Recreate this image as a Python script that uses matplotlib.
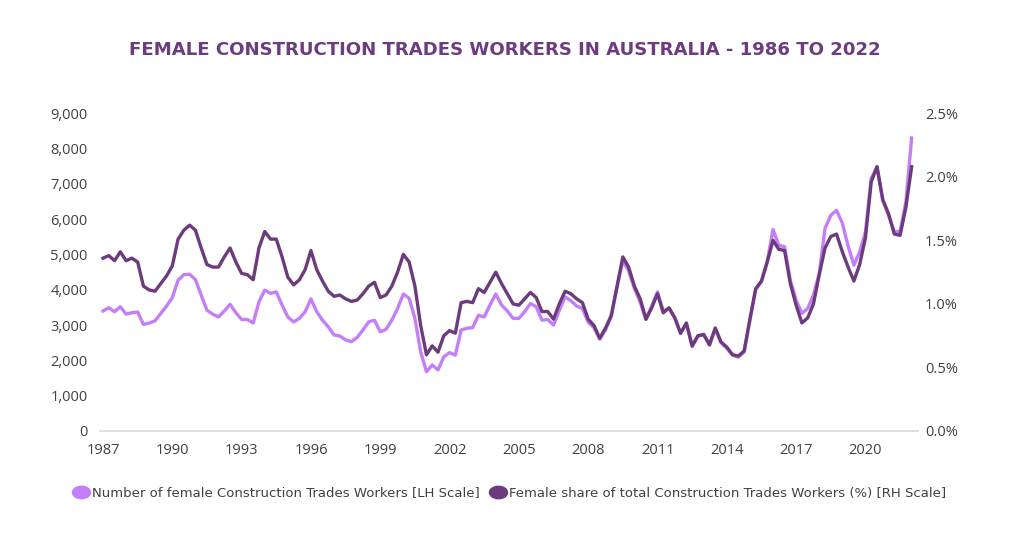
#!/usr/bin/env python

# Female construction trades workers in Australia, quarterly, LH count / RH share

import numpy as np
import matplotlib
matplotlib.use('Agg')
import matplotlib.pyplot as plt
from matplotlib.lines import Line2D
from matplotlib.path import Path
from matplotlib.transforms import Affine2D
from matplotlib.ticker import FuncFormatter, MultipleLocator

# Data - quarterly from Feb 1987
tick_years = ['1987', '1990', '1993', '1996', '1999', '2002',
              '2005', '2008', '2011', '2014', '2017', '2020']

female_workers = [
    3400, 3490, 3380, 3520, 3310, 3350, 3370, 3020, 3060, 3120,
    3330, 3540, 3780, 4270, 4430, 4440, 4290, 3850, 3420, 3310,
    3230, 3400, 3590, 3350, 3160, 3160, 3060, 3660, 3990, 3900,
    3940, 3570, 3230, 3090, 3190, 3380, 3740, 3380, 3140, 2950,
    2720, 2690, 2580, 2530, 2650, 2860, 3090, 3140, 2810, 2880,
    3140, 3470, 3880, 3760, 3190, 2240, 1680, 1870, 1730, 2100,
    2220, 2150, 2860, 2910, 2930, 3280, 3230, 3570, 3880, 3570,
    3400, 3190, 3190, 3380, 3610, 3520, 3140, 3160, 3000, 3420,
    3800, 3690, 3540, 3470, 3080, 2930, 2600, 2860, 3250, 4080,
    4820, 4540, 4040, 3650, 3160, 3540, 3940, 3400, 3470, 3200,
    2760, 3050, 2390, 2690, 2720, 2430, 2910, 2500, 2340, 2150,
    2090, 2240, 3140, 4010, 4230, 4800, 5710, 5260, 5220, 4270,
    3710, 3330, 3470, 3850, 4460, 5740, 6110, 6250, 5890, 5240,
    4700, 5070, 5640, 7150, 7480, 6540, 6110, 5640, 5660, 6490,
    8300]

female_share = [  # per cent
    1.36, 1.38, 1.34, 1.41, 1.34, 1.36, 1.33, 1.14, 1.11, 1.10,
    1.16, 1.22, 1.30, 1.51, 1.58, 1.62, 1.58, 1.44, 1.31, 1.29,
    1.29, 1.37, 1.44, 1.33, 1.24, 1.23, 1.19, 1.44, 1.57, 1.51,
    1.51, 1.37, 1.21, 1.15, 1.19, 1.27, 1.42, 1.27, 1.18, 1.10,
    1.06, 1.07, 1.04, 1.02, 1.03, 1.08, 1.14, 1.17, 1.05, 1.07,
    1.14, 1.25, 1.39, 1.33, 1.14, 0.83, 0.60, 0.67, 0.62, 0.75,
    0.79, 0.77, 1.01, 1.02, 1.01, 1.12, 1.09, 1.17, 1.25, 1.16,
    1.08, 1.00, 0.99, 1.04, 1.09, 1.05, 0.94, 0.94, 0.88, 1.00,
    1.10, 1.08, 1.04, 1.01, 0.88, 0.83, 0.73, 0.81, 0.91, 1.14,
    1.37, 1.29, 1.14, 1.04, 0.88, 0.97, 1.08, 0.93, 0.97, 0.89,
    0.77, 0.85, 0.67, 0.75, 0.76, 0.68, 0.81, 0.70, 0.66, 0.60,
    0.59, 0.63, 0.88, 1.12, 1.18, 1.33, 1.50, 1.43, 1.42, 1.16,
    0.99, 0.85, 0.89, 1.00, 1.23, 1.44, 1.53, 1.55, 1.41, 1.29,
    1.18, 1.31, 1.52, 1.96, 2.08, 1.82, 1.71, 1.55, 1.54, 1.76,
    2.08]

light = '#c47ef8'
dark = '#6c3b7c'
grey_text = '#404040'
tick_font = ['Open Sans', 'DejaVu Sans']
narrow_font = ['DejaVu Sans Condensed', 'Liberation Sans Narrow', 'DejaVu Sans']

fig = plt.figure(figsize=(10.24, 5.37), dpi=100, facecolor='white')

ax = fig.add_axes([100/1024, 1-431/537, 818/1024, 317.7/537])
ax2 = ax.twinx()

x = np.arange(len(female_workers))

ax.plot(x, female_workers, color=light, linewidth=2.4,
        solid_joinstyle='round', zorder=2)
ax2.plot(x, female_share, color=dark, linewidth=2.4,
         solid_joinstyle='round', zorder=3)

ax.set_xlim(-0.52, 141.1)
ax.set_ylim(0, 9000)
ax2.set_ylim(0, 2.5)
ax.yaxis.set_major_locator(MultipleLocator(1000))
ax2.yaxis.set_major_locator(MultipleLocator(0.5))
ax.yaxis.set_major_formatter(FuncFormatter(lambda v, p: '{:,.0f}'.format(v)))
ax2.yaxis.set_major_formatter(FuncFormatter(lambda v, p: '{:.1f}%'.format(v)))
ax.set_xticks(x[::12][:len(tick_years)])
ax.set_xticklabels(tick_years)

for a in (ax, ax2):
    for s in a.spines.values():
        s.set_visible(False)
    a.tick_params(length=0, labelsize=10.5, labelcolor=grey_text)
    for lab in a.get_xticklabels() + a.get_yticklabels():
        lab.set_family(tick_font)
ax.spines['bottom'].set_visible(True)
ax.spines['bottom'].set_color('#d9d9d9')
ax.spines['bottom'].set_linewidth(1.2)
ax.tick_params(axis='x', pad=9)
ax.tick_params(axis='y', pad=9)
ax2.tick_params(axis='y', pad=5)

# Title
title = fig.text(0.493, 1-50/537,
                 'FEMALE CONSTRUCTION TRADES WORKERS IN AUSTRALIA - 1986 TO 2022',
                 ha='center', va='center', fontsize=16, fontweight='bold',
                 color='#6d3c80', family=narrow_font)

# Legend with oval markers
oval = Path.unit_circle().transformed(Affine2D().scale(1.45, 1.0))
handles = [Line2D([], [], linestyle='none', marker=oval, markersize=13,
                  markerfacecolor=light, markeredgecolor=light),
           Line2D([], [], linestyle='none', marker=oval, markersize=13,
                  markerfacecolor=dark, markeredgecolor=dark)]
labels = ['Number of female Construction Trades Workers [LH Scale]',
          'Female share of total Construction Trades Workers (%) [RH Scale]']
leg = fig.legend(handles, labels, loc='center',
                 bbox_to_anchor=(510/1024, 1-493/537),
                 ncol=2, frameon=False, handlelength=1.0, handletextpad=0.3,
                 columnspacing=0.8, prop={'family': narrow_font, 'size': 10},
                 labelcolor=grey_text)

# Fit title and legend text to the widths seen in the original
fig.canvas.draw()
r = fig.canvas.get_renderer()
w = title.get_window_extent(r).width
title.set_fontsize(title.get_fontsize() * 752.0 / w)
w = leg.get_texts()[0].get_window_extent(r).width
scale = 386.0 / w
for t in leg.get_texts():
    t.set_fontsize(t.get_fontsize() * scale)

fig.savefig('out.png', dpi=100, facecolor='white')
